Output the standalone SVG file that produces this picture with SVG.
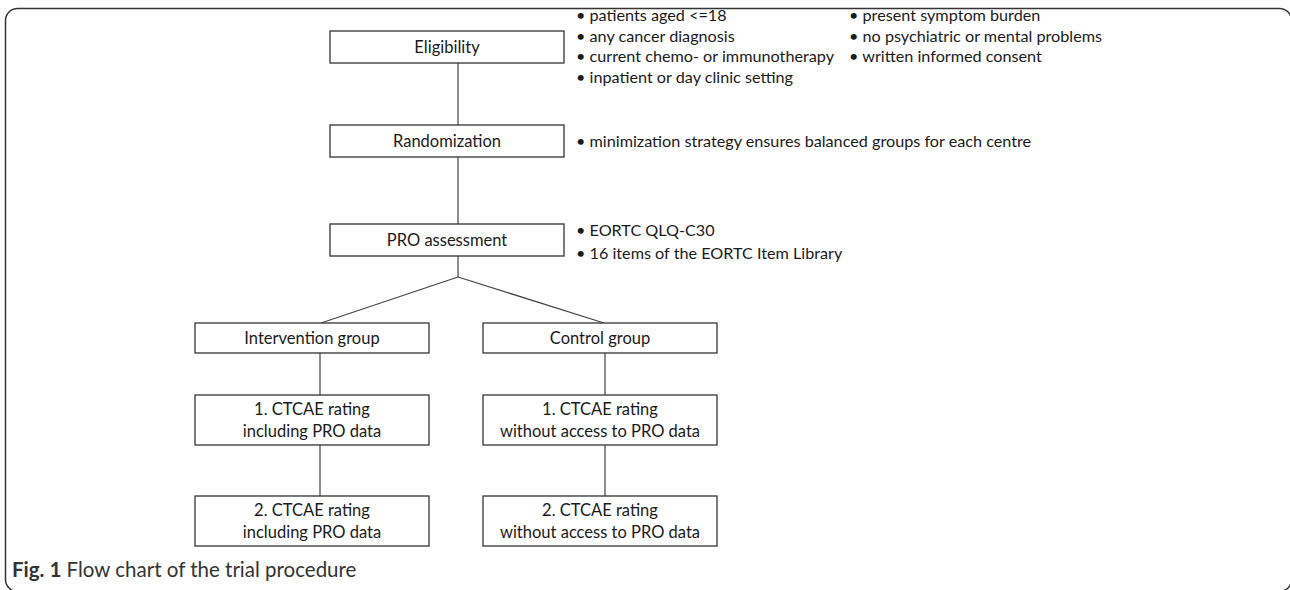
<svg xmlns="http://www.w3.org/2000/svg" width="1290" height="590" viewBox="0 0 1290 590">
<style>
.box{fill:#fff;stroke:#333;stroke-width:1.3}
.lbl{font-family:Lato,"Open Sans",sans-serif;font-size:16.5px;fill:#1a1a1a;text-anchor:middle;dominant-baseline:central}
.bul{font-family:Lato,"Open Sans",sans-serif;font-size:16.2px;fill:#1a1a1a}
.con{stroke:#444;stroke-width:1.2;fill:none}
.cap{font-family:Lato,"Open Sans",sans-serif;font-size:20.5px;fill:#333}
</style>
<rect x="5.5" y="8.5" width="1286" height="583" rx="12" fill="none" stroke="#333" stroke-width="1.5"/>
<g id="connectors">
<line class="con" x1="458" y1="63" x2="458" y2="125"/>
<line class="con" x1="458" y1="157" x2="458" y2="224"/>
<line class="con" x1="458" y1="256" x2="458" y2="277"/>
<line class="con" x1="458" y1="277" x2="321" y2="323"/>
<line class="con" x1="458" y1="277" x2="604" y2="323"/>
<line class="con" x1="320" y1="353" x2="320" y2="395"/>
<line class="con" x1="605" y1="353" x2="605" y2="395"/>
<line class="con" x1="320" y1="445" x2="320" y2="496"/>
<line class="con" x1="605" y1="445" x2="605" y2="496"/>
</g>
<g id="eligibility">
<rect class="box" x="330" y="31" width="234" height="32"/>
<text class="lbl" x="447" y="47">Eligibility</text>
</g>
<g id="eligibility-criteria">
<text class="bul" x="576" y="21">• patients aged &lt;=18</text>
<text class="bul" x="576" y="41.5">• any cancer diagnosis</text>
<text class="bul" x="576" y="62">• current chemo- or immunotherapy</text>
<text class="bul" x="576" y="82.5">• inpatient or day clinic setting</text>
<text class="bul" x="849" y="21">• present symptom burden</text>
<text class="bul" x="849" y="41.5">• no psychiatric or mental problems</text>
<text class="bul" x="849" y="62">• written informed consent</text>
</g>
<g id="randomization">
<rect class="box" x="330" y="125" width="234" height="32"/>
<text class="lbl" x="447" y="141">Randomization</text>
</g>
<g id="randomization-note">
<text class="bul" x="576" y="147">• minimization strategy ensures balanced groups for each centre</text>
</g>
<g id="pro-assessment">
<rect class="box" x="330" y="224" width="234" height="32"/>
<text class="lbl" x="447" y="240">PRO assessment</text>
</g>
<g id="pro-note">
<text class="bul" x="576" y="236">• EORTC QLQ-C30</text>
<text class="bul" x="576" y="259">• 16 items of the EORTC Item Library</text>
</g>
<g id="intervention-group">
<rect class="box" x="195" y="323" width="234" height="30"/>
<text class="lbl" x="312" y="338">Intervention group</text>
</g>
<g id="control-group">
<rect class="box" x="483" y="323" width="234" height="30"/>
<text class="lbl" x="600" y="338">Control group</text>
</g>
<g id="intervention-rating-1">
<rect class="box" x="195" y="395" width="234" height="50"/>
<text class="lbl" x="312" y="409">1. CTCAE rating</text>
<text class="lbl" x="312" y="431">including PRO data</text>
</g>
<g id="control-rating-1">
<rect class="box" x="483" y="395" width="234" height="50"/>
<text class="lbl" x="600" y="409">1. CTCAE rating</text>
<text class="lbl" x="600" y="431">without access to PRO data</text>
</g>
<g id="intervention-rating-2">
<rect class="box" x="195" y="496" width="234" height="50"/>
<text class="lbl" x="312" y="510">2. CTCAE rating</text>
<text class="lbl" x="312" y="532">including PRO data</text>
</g>
<g id="control-rating-2">
<rect class="box" x="483" y="496" width="234" height="50"/>
<text class="lbl" x="600" y="510">2. CTCAE rating</text>
<text class="lbl" x="600" y="532">without access to PRO data</text>
</g>
<text class="cap" x="12" y="577"><tspan font-weight="bold">Fig. 1</tspan> Flow chart of the trial procedure</text>
</svg>
